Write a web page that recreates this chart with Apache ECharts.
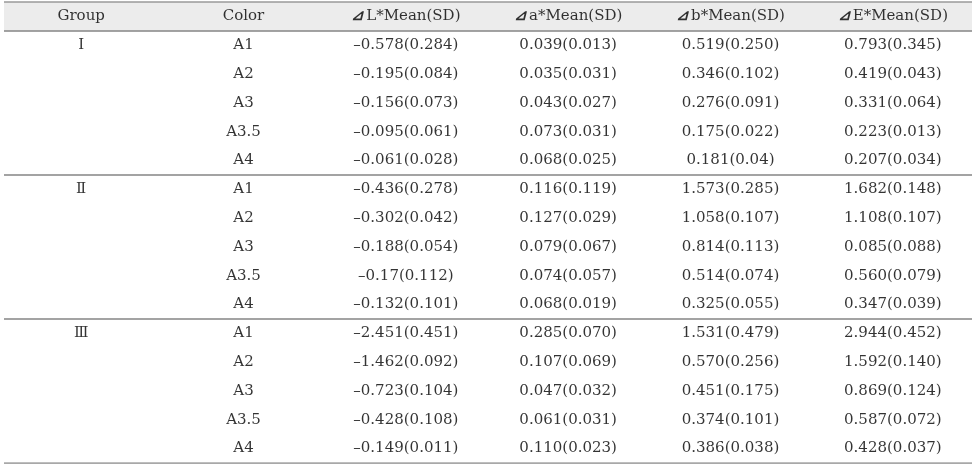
<!DOCTYPE html>
<html>
<head>
<meta charset="utf-8">
<script src="https://cdn.jsdelivr.net/npm/echarts@6/dist/echarts.min.js"></script>
<style>html,body{margin:0;padding:0;background:#fff}#c{width:976px;height:464px}</style>
</head>
<body>
<div id="c"></div>
<script>
// ---- data ----
var headers = ['Group', 'Color', '⊿L*Mean(SD)', '⊿a*Mean(SD)', '⊿b*Mean(SD)', '⊿E*Mean(SD)'];
var groups = ['Ⅰ', 'Ⅱ', 'Ⅲ'];
var colors = ['A1', 'A2', 'A3', 'A3.5', 'A4'];
var dLMean = ['-0.578','-0.195','-0.156','-0.095','-0.061','-0.436','-0.302','-0.188','-0.17','-0.132','-2.451','-1.462','-0.723','-0.428','-0.149'];
var dLSD   = ['0.284','0.084','0.073','0.061','0.028','0.278','0.042','0.054','0.112','0.101','0.451','0.092','0.104','0.108','0.011'];
var daMean = ['0.039','0.035','0.043','0.073','0.068','0.116','0.127','0.079','0.074','0.068','0.285','0.107','0.047','0.061','0.110'];
var daSD   = ['0.013','0.031','0.027','0.031','0.025','0.119','0.029','0.067','0.057','0.019','0.070','0.069','0.032','0.031','0.023'];
var dbMean = ['0.519','0.346','0.276','0.175','0.181','1.573','1.058','0.814','0.514','0.325','1.531','0.570','0.451','0.374','0.386'];
var dbSD   = ['0.250','0.102','0.091','0.022','0.04','0.285','0.107','0.113','0.074','0.055','0.479','0.256','0.175','0.101','0.038'];
var dEMean = ['0.793','0.419','0.331','0.223','0.207','1.682','1.108','0.085','0.560','0.347','2.944','1.592','0.869','0.587','0.428'];
var dESD   = ['0.345','0.043','0.064','0.013','0.034','0.148','0.107','0.088','0.079','0.039','0.452','0.140','0.124','0.072','0.037'];

// ---- build ----
var colIdx = headers.map(function (h, i) { return String(i); });
var rowIdx = [];
for (var r = 0; r <= groups.length * colors.length; r++) rowIdx.push(String(r));

function fmt(m, s) { return m.replace('-', '–') + '(' + s + ')'; }

var cells = [];
headers.forEach(function (h, c) { cells.push({ value: [c, 0], name: h }); });
var meanCols = [[dLMean, dLSD], [daMean, daSD], [dbMean, dbSD], [dEMean, dESD]];
for (var g = 0; g < groups.length; g++) {
  for (var k = 0; k < colors.length; k++) {
    var i = g * colors.length + k;
    var row = i + 1;
    if (k === 0) cells.push({ value: [0, row], name: groups[g] });
    cells.push({ value: [1, row], name: colors[k] });
    meanCols.forEach(function (p, j) {
      cells.push({ value: [2 + j, row], name: fmt(p[0][i], p[1][i]) });
    });
  }
}

var nRows = rowIdx.length;
var ruleRows = [0, 1];
for (var g2 = 1; g2 <= groups.length; g2++) ruleRows.push(1 + g2 * colors.length);

var FONT = '"DejaVu Serif", "Liberation Serif", serif';

var chart = echarts.init(document.getElementById('c'), null, { renderer: 'canvas' });
chart.setOption({
  animation: false,
  backgroundColor: '#ffffff',
  grid: [
    { left: -4.6, right: 2, top: 2, bottom: 1 },
    { left: 4, right: 4, top: 2, bottom: 1 }
  ],
  xAxis: [
    { type: 'category', gridIndex: 0, data: colIdx, show: false, boundaryGap: true },
    { type: 'value', gridIndex: 1, min: 0, max: 1, show: false }
  ],
  yAxis: [
    { type: 'category', gridIndex: 0, data: rowIdx, show: false, inverse: true, boundaryGap: true },
    { type: 'value', gridIndex: 1, min: 0, max: nRows, show: false, inverse: true }
  ],
  series: [
    {
      type: 'line', xAxisIndex: 1, yAxisIndex: 1, data: [[0, 0]], symbol: 'none',
      lineStyle: { opacity: 0 }, silent: true, z: 1,
      markArea: {
        silent: true,
        itemStyle: { color: '#ececec' },
        data: [[{ yAxis: 0 }, { yAxis: 1 }]]
      },
      markLine: {
        silent: true, symbol: 'none', label: { show: false },
        data: ruleRows.map(function (v, n) {
          var last = n === ruleRows.length - 1;
          return {
            yAxis: v,
            lineStyle: {
              type: 'solid',
              color: last ? '#a8a8a8' : (v === 0 ? '#9a9a9a' : '#858585'),
              width: last ? 2.5 : 1.5
            }
          };
        })
      }
    },
    {
      type: 'scatter', xAxisIndex: 0, yAxisIndex: 0, data: cells,
      symbol: 'circle', symbolSize: 1, itemStyle: { color: 'rgba(0,0,0,0)' }, silent: true, z: 5,
      label: {
        show: true, position: 'inside',
        formatter: function (p) { return p.name.replace('⊿', '{d|⊿}'); },
        fontFamily: FONT, fontSize: 15, color: '#000', textBorderWidth: 0,
        rich: {
          d: { fontFamily: FONT, fontSize: 15, fontWeight: 'bold', fontStyle: 'italic', color: '#000', padding: [0, 2, 0, 0] }
        }
      },
      labelLayout: { hideOverlap: false },
      emphasis: { disabled: true }
    }
  ]
});
</script>
</body>
</html>
